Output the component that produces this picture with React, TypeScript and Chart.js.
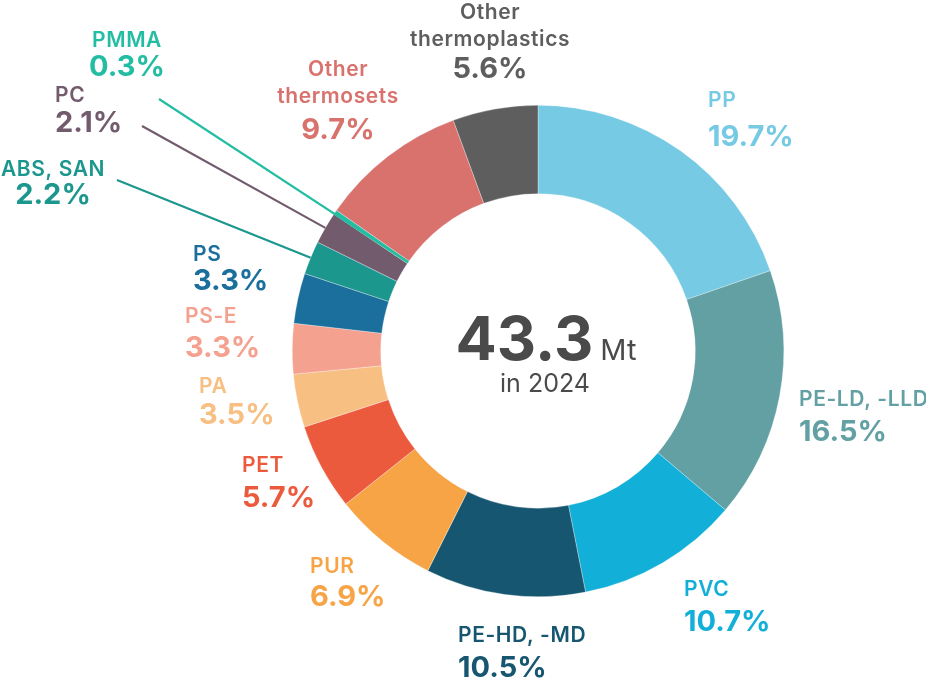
import React, { useEffect, useRef } from "react";
import { Chart, registerables } from "chart.js";

Chart.register(...registerables);

const categories = [
  "PP",
  "PE-LD, -LLD",
  "PVC",
  "PE-HD, -MD",
  "PUR",
  "PET",
  "PA",
  "PS-E",
  "PS",
  "ABS, SAN",
  "PC",
  "PMMA",
  "Other thermosets",
  "Other thermoplastics",
];
const shares = [19.7, 16.5, 10.7, 10.5, 6.9, 5.7, 3.5, 3.3, 3.3, 2.2, 2.1, 0.3, 9.7, 5.6];
const sliceColors = [
  "#76CAE3",
  "#62A0A3",
  "#12B0D8",
  "#165670",
  "#F7A446",
  "#EC5A3E",
  "#F8BF83",
  "#F5A190",
  "#1A6F9D",
  "#1C978E",
  "#735B6E",
  "#22BDA2",
  "#D9716D",
  "#5E5E5E",
];
const totalValue = "43.3";
const totalUnit = "Mt";
const yearText = "in 2024";

// Label layout (name lines split, anchor x, line center ys, alignment)
type LabelLayout = { lines: string[]; x: number; ys: number[]; align: CanvasTextAlign; leader?: { x: number; y: number; to: "inner" | "outer" } };
const labelLayout: LabelLayout[] = [
  { lines: ["PP"], x: 708, ys: [101, 137], align: "left" },
  { lines: ["PE-LD, -LLD"], x: 799, ys: [400, 432], align: "left" },
  { lines: ["PVC"], x: 684, ys: [590, 622], align: "left" },
  { lines: ["PE-HD, -MD"], x: 458, ys: [636, 668], align: "left" },
  { lines: ["PUR"], x: 310, ys: [567, 597], align: "left" },
  { lines: ["PET"], x: 242, ys: [466, 498], align: "left" },
  { lines: ["PA"], x: 199, ys: [387, 415], align: "left" },
  { lines: ["PS-E"], x: 185, ys: [317, 348], align: "left" },
  { lines: ["PS"], x: 193, ys: [255, 281], align: "left" },
  { lines: ["ABS, SAN"], x: 53, ys: [170, 195], align: "center", leader: { x: 117, y: 180, to: "outer" } },
  { lines: ["PC"], x: 55, ys: [96, 123], align: "left", leader: { x: 142, y: 126, to: "outer" } },
  { lines: ["PMMA"], x: 127, ys: [41, 67], align: "center", leader: { x: 159, y: 99, to: "inner" } },
  { lines: ["Other", "thermosets"], x: 338, ys: [70, 97, 130], align: "center" },
  { lines: ["Other", "thermoplastics"], x: 490, ys: [13, 40, 69], align: "center" },
];

const FONT = "Inter, 'Noto Sans', sans-serif";

const labelPlugin = {
  id: "sliceLabels",
  afterDatasetsDraw(chart: any) {
    const ctx: any = chart.ctx;
    const meta = chart.getDatasetMeta(0);
    ctx.save();
    // leader lines
    labelLayout.forEach((l, i) => {
      if (!l.leader) return;
      const arc = meta.data[i];
      const mid = (arc.startAngle + arc.endAngle) / 2;
      const r = l.leader.to === "inner" ? arc.innerRadius : arc.outerRadius;
      ctx.beginPath();
      ctx.strokeStyle = sliceColors[i];
      ctx.lineWidth = 2.2;
      ctx.moveTo(l.leader.x, l.leader.y);
      ctx.lineTo(arc.x + Math.cos(mid) * r, arc.y + Math.sin(mid) * r);
      ctx.stroke();
    });
    // labels
    ctx.textBaseline = "middle";
    labelLayout.forEach((l, i) => {
      ctx.fillStyle = sliceColors[i];
      ctx.textAlign = l.align;
      ctx.font = `600 21px ${FONT}`;
      ctx.letterSpacing = "0.6px";
      l.lines.forEach((t, j) => ctx.fillText(t, l.x, l.ys[j]));
      ctx.letterSpacing = "0px";
      ctx.font = `700 29px ${FONT}`;
      ctx.fillText(shares[i].toFixed(1) + "%", l.x, l.ys[l.lines.length]);
    });
    // center text
    const arc0 = meta.data[0];
    const cx = arc0.x;
    ctx.fillStyle = "#4A4A4A";
    ctx.textBaseline = "alphabetic";
    ctx.textAlign = "left";
    ctx.font = `700 61px ${FONT}`;
    const w1 = ctx.measureText(totalValue).width;
    ctx.font = `400 29px ${FONT}`;
    const w2 = ctx.measureText(totalUnit).width;
    const gap = 7;
    const startX = cx + 8 - (w1 + gap + w2) / 2;
    ctx.font = `700 61px ${FONT}`;
    ctx.fillText(totalValue, startX, 360);
    ctx.font = `400 29px ${FONT}`;
    ctx.fillText(totalUnit, startX + w1 + gap, 360);
    ctx.textAlign = "center";
    ctx.font = `400 25px ${FONT}`;
    ctx.fillText(yearText, cx + 7, 392);
    ctx.restore();
  },
};

export default function App() {
  const ref = useRef<HTMLCanvasElement>(null);
  useEffect(() => {
    if (!ref.current) return;
    const chart = new Chart(ref.current, {
      type: "doughnut",
      data: {
        labels: categories,
        datasets: [
          {
            data: shares,
            backgroundColor: sliceColors,
            borderWidth: 0.5,
            borderColor: "rgba(255,255,255,0.6)",
          },
        ],
      },
      options: {
        responsive: false,
        animation: false,
        devicePixelRatio: 1,
        cutout: "64%",
        layout: { padding: { left: 292, right: 142, top: 105, bottom: 87 } },
        plugins: { legend: { display: false }, tooltip: { enabled: false } },
      },
      plugins: [labelPlugin],
    });
    return () => chart.destroy();
  }, []);
  return (
    <div style={{ position: "absolute", left: 0, top: 0, width: 926, height: 684, background: "#fff" }}>
      <canvas ref={ref} width={926} height={684} />
    </div>
  );
}
